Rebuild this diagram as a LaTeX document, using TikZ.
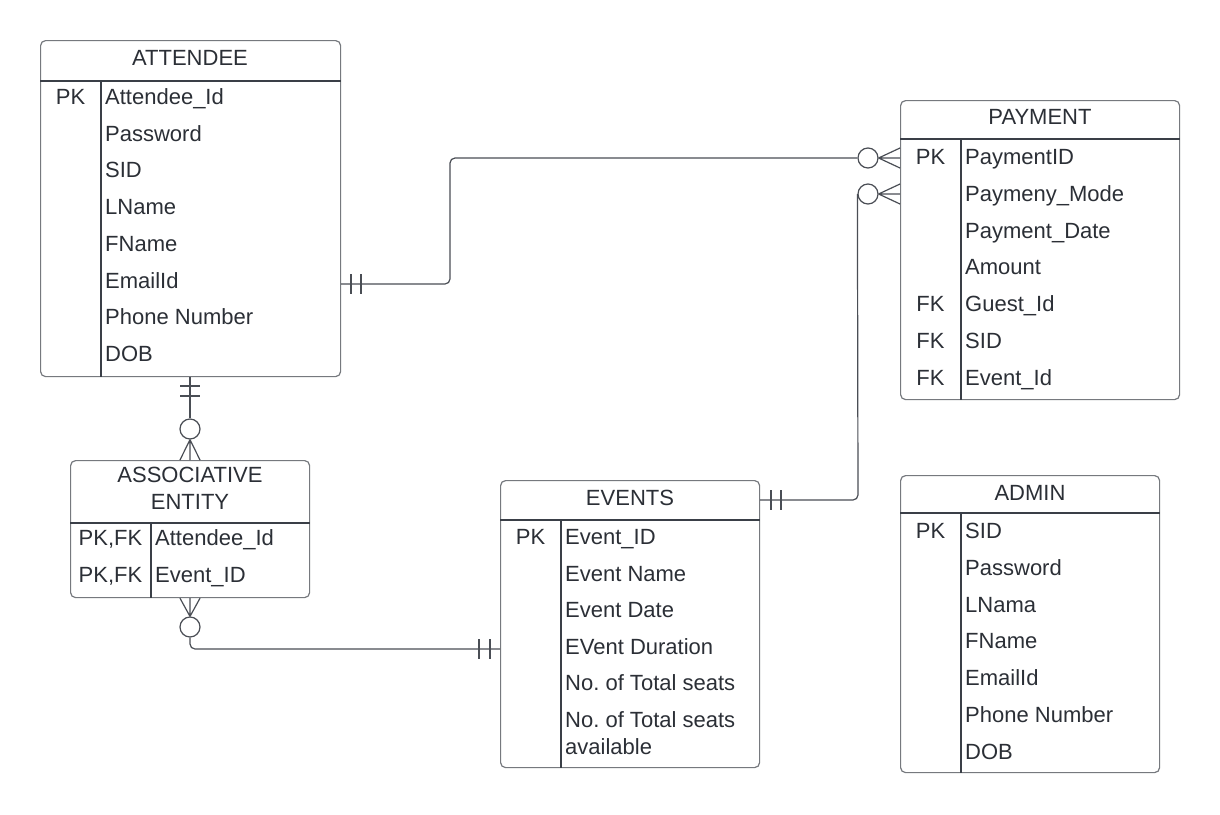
\documentclass[tikz,border=0pt]{standalone}
\usepackage{fontspec}
\setmainfont{Liberation Sans}
\definecolor{txt}{HTML}{2B2F36}
\definecolor{boxc}{HTML}{76797E}
\definecolor{inner}{HTML}{3A3F47}
\definecolor{conn}{HTML}{4A4E55}
\begin{document}
\begin{tikzpicture}[x=1pt,y=-1pt,
  font=\fontsize{22}{26}\selectfont\frenchspacing,
  ebox/.style={draw=boxc, line width=1.2pt, rounded corners=5pt, rectangle, anchor=north west, inner sep=0pt},
  attr/.style={anchor=base west, inner sep=0pt, text=txt},
  keyl/.style={anchor=base, inner sep=0pt, text=txt},
  ttl/.style={anchor=base, inner sep=0pt, text=txt},
  sep/.style={draw=inner, line width=1.1pt},
  cn/.style={draw=conn, line width=1.2pt},
  ring/.style={circle, draw=conn, line width=1.2pt, minimum size=20pt, inner sep=0pt, fill=white}]
\useasboundingbox[fill=white] (0,0) rectangle (1220,814);

% ---------- ATTENDEE ----------
\node[ebox, minimum width=300pt, minimum height=336pt] (att) at (40,40) {};
\coordinate (atth) at (40,81);
\coordinate (attd) at (101,0);
\draw[sep] (att.west |- atth) -- (att.east |- atth);
\draw[sep] (attd |- atth) -- (attd |- att.south);
\node[ttl] (attt) at (190,65.5) {ATTENDEE};
\node[keyl] (attk) at (70.5,104.5) {PK};
\foreach \t [count=\i] in {Attendee\_Id,Password,SID,LName,FName,EmailId,Phone Number,DOB}
  \node[attr] (attr\i) at (105,{104.5+36.7*(\i-1)}) {\t};

% ---------- PAYMENT ----------
\node[ebox, minimum width=279pt, minimum height=299pt] (pay) at (900,100) {};
\coordinate (payh) at (900,139);
\coordinate (payd) at (961,0);
\draw[sep] (pay.west |- payh) -- (pay.east |- payh);
\draw[sep] (payd |- payh) -- (payd |- pay.south);
\node[ttl] (payt) at (1040,124.5) {PAYMENT};
\node[keyl] (payk1) at (930.5,164.5) {PK};
\node[keyl] (payk5) at (930.5,{164.5+36.8*4}) {FK};
\node[keyl] (payk6) at (930.5,{164.5+36.8*5}) {FK};
\node[keyl] (payk7) at (930.5,{164.5+36.8*6}) {FK};
\foreach \t [count=\i] in {PaymentID,Paymeny\_Mode,Payment\_Date,Amount,Guest\_Id,SID,Event\_Id}
  \node[attr] (payr\i) at (965,{164.5+36.8*(\i-1)}) {\t};

% ---------- ASSOCIATIVE ENTITY ----------
\node[ebox, minimum width=239pt, minimum height=137pt] (ase) at (70,460) {};
\coordinate (aseh) at (70,523);
\coordinate (ased) at (151,0);
\draw[sep] (ase.west |- aseh) -- (ase.east |- aseh);
\draw[sep] (ased |- aseh) -- (ased |- ase.south);
\node[ttl] (aset1) at (190,482.5) {ASSOCIATIVE};
\node[ttl] (aset2) at (190,509.5) {ENTITY};
\node[keyl] (asek1) at (110.5,545.5) {PK,FK};
\node[keyl] (asek2) at (110.5,582.5) {PK,FK};
\node[attr] (aser1) at (155,545.5) {Attendee\_Id};
\node[attr] (aser2) at (155,582.5) {Event\_ID};

% ---------- EVENTS ----------
\node[ebox, minimum width=259pt, minimum height=287pt] (ev) at (500,480) {};
\coordinate (evh) at (500,520);
\coordinate (evd) at (561,0);
\draw[sep] (ev.west |- evh) -- (ev.east |- evh);
\draw[sep] (evd |- evh) -- (evd |- ev.south);
\node[ttl] (evt) at (630,505.5) {EVENTS};
\node[keyl] (evk) at (530.5,544.5) {PK};
\foreach \t [count=\i] in {Event\_ID,Event Name,Event Date,EVent Duration,No. of Total seats,No. of Total seats}
  \node[attr] (evr\i) at (565,{544.5+36.6*(\i-1)}) {\t};
\node[attr] (evr7) at (565,754.5) {available};

% ---------- ADMIN ----------
\node[ebox, minimum width=259pt, minimum height=297pt] (adm) at (900,475) {};
\coordinate (admh) at (900,513);
\coordinate (admd) at (961,0);
\draw[sep] (adm.west |- admh) -- (adm.east |- admh);
\draw[sep] (admd |- admh) -- (admd |- adm.south);
\node[ttl] (admt) at (1030,500.5) {ADMIN};
\node[keyl] (admk) at (930.5,538.5) {PK};
\foreach \t [count=\i] in {SID,Password,LNama,FName,EmailId,Phone Number,DOB}
  \node[attr] (admr\i) at (965,{538.5+36.8*(\i-1)}) {\t};

% ---------- Connector: ATTENDEE -- PAYMENT ----------
\coordinate (c1a) at (340,284);
\coordinate (c1b) at (450,284);
\coordinate (c1c) at (450,158);
\node[ring] (o1) at (868,158) {};
\draw[cn, rounded corners=5pt] (att.east |- c1a) -- (c1b) -- (c1c) -- (o1.west);
\draw[cn] (351,274) -- (351,294) (361,274) -- (361,294);
\draw[cn] (o1.east) -- (pay.west |- o1.east)
  (o1.east) -- ([yshift=-10pt]pay.west |- o1.east)
  (o1.east) -- ([yshift=10pt]pay.west |- o1.east);

% ---------- Connector: EVENTS -- PAYMENT ----------
\coordinate (c2a) at (760,500);
\coordinate (c2b) at (858,500);
\node[ring] (o2) at (868,194) {};
\draw[cn, rounded corners=5pt] (ev.east |- c2a) -- (c2b) -- (o2.west);
\draw[cn] (771,490) -- (771,510) (781,490) -- (781,510);
\draw[cn] (o2.east) -- (pay.west |- o2.east)
  (o2.east) -- ([yshift=-10pt]pay.west |- o2.east)
  (o2.east) -- ([yshift=10pt]pay.west |- o2.east);

% ---------- Connector: ATTENDEE -- ASSOCIATIVE ENTITY ----------
\node[ring] (o3) at (190,429) {};
\draw[cn] (att.south -| o3) -- (o3.north);
\draw[cn] (180,386) -- (200,386) (180,396) -- (200,396);
\draw[cn] (o3.south) -- (ase.north -| o3.south)
  (o3.south) -- ([xshift=-10pt]ase.north -| o3.south)
  (o3.south) -- ([xshift=10pt]ase.north -| o3.south);

% ---------- Connector: ASSOCIATIVE ENTITY -- EVENTS ----------
\node[ring] (o4) at (190,627) {};
\coordinate (c4a) at (190,649);
\draw[cn] (o4.north) -- (ase.south -| o4.north)
  (o4.north) -- ([xshift=-10pt]ase.south -| o4.north)
  (o4.north) -- ([xshift=10pt]ase.south -| o4.north);
\draw[cn, rounded corners=5pt] (o4.south) -- (c4a) -- (ev.west |- c4a);
\draw[cn] (479,639) -- (479,659) (490,639) -- (490,659);
\end{tikzpicture}
\end{document}
